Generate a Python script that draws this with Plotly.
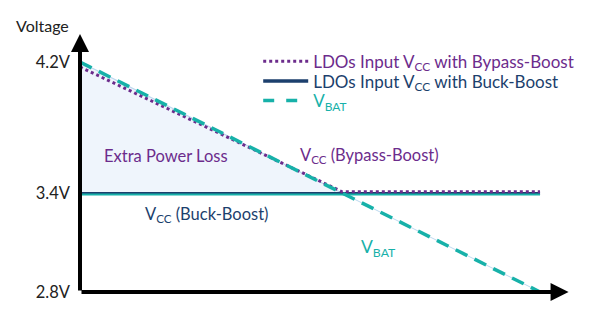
import plotly.graph_objects as go

# Schematic discharge: time in arbitrary units, voltage in volts
time_vbat = [0, 10]
v_bat = [4.2, 2.8]

# LDO input with bypass-boost: follows the battery until it reaches the regulated level
time_bypass = [0, 5.7, 10]
v_bypass = [4.17, 3.41, 3.41]

# LDO input with buck-boost: regulated flat level
time_buck = [0, 10]
v_buck = [3.4, 3.4]

# Region between the battery curve and the buck-boost level
time_loss = [0, 5.71, 0]
v_loss = [4.2, 3.4, 3.4]

y_ticks = [2.8, 3.4, 4.2]
y_tick_text = ["2.8V", "3.4V", "4.2V"]

PURPLE = "#6c2c8c"
NAVY = "#1c3f6d"
TEAL = "#17b1a9"
FONT = "Lato"

fig = go.Figure()

fig.add_trace(go.Scatter(
    x=time_loss, y=v_loss, fill="toself", fillcolor="#eff5fc",
    line=dict(color="#c6ddf0", width=1), mode="lines",
    showlegend=False, hoverinfo="skip"))

fig.add_trace(go.Scatter(
    x=time_vbat, y=v_bat, mode="lines",
    line=dict(color="#bcd9ef", width=1), showlegend=False, hoverinfo="skip"))

fig.add_trace(go.Scatter(
    x=time_buck, y=v_buck, mode="lines",
    line=dict(color=NAVY, width=3), showlegend=False))
fig.add_trace(go.Scatter(
    x=time_buck, y=[v - 0.006 for v in v_buck], mode="lines",
    line=dict(color=TEAL, width=2), showlegend=False, hoverinfo="skip"))

fig.add_trace(go.Scatter(
    x=time_bypass, y=v_bypass, mode="lines",
    line=dict(color=PURPLE, width=3, dash="dot"), showlegend=False))

fig.add_trace(go.Scatter(
    x=time_vbat, y=v_bat, mode="lines",
    line=dict(color=TEAL, width=3.5, dash="13px,8px"), showlegend=False))

# Legend entries, one legend box per row so the rows can sit close together
fig.add_trace(go.Scatter(
    x=[None], y=[None], mode="lines", legend="legend",
    line=dict(color=PURPLE, width=3, dash="dot"),
    name=f'<span style="color:{PURPLE}">LDOs Input V<sub>CC</sub> with Bypass-Boost</span>'))
fig.add_trace(go.Scatter(
    x=[None], y=[None], mode="lines", legend="legend2",
    line=dict(color=NAVY, width=3.5),
    name=f'<span style="color:{NAVY}">LDOs Input V<sub>CC</sub> with Buck-Boost</span>'))
fig.add_trace(go.Scatter(
    x=[None], y=[None], mode="lines", legend="legend3",
    line=dict(color=TEAL, width=3.5, dash="11px,12px"),
    name=f'<span style="color:{TEAL}">V<sub>BAT</sub></span>'))

annotations = [
    # axis arrows
    dict(x=0, y=4.37, ax=0, ay=2.8, xref="x", yref="y", axref="x", ayref="y",
         text="", showarrow=True, arrowhead=2, arrowwidth=4, arrowsize=0.9,
         arrowcolor="black"),
    dict(x=10.62, y=2.8, ax=0, ay=2.8, xref="x", yref="y", axref="x", ayref="y",
         text="", showarrow=True, arrowhead=2, arrowwidth=4, arrowsize=0.9,
         arrowcolor="black"),
    dict(x=-0.018, y=1.0185, xref="paper", yref="paper", text="Voltage",
         xanchor="right", yanchor="middle",
         showarrow=False, font=dict(size=16, color="#222")),
    dict(x=9.78, y=2.70, xref="x", yref="y", text="Time",
         showarrow=False, font=dict(size=16, color="#222")),
    dict(x=1.87, y=3.63, xref="x", yref="y", text="Extra Power Loss",
         showarrow=False, font=dict(size=16.5, color=PURPLE)),
    dict(x=6.30, y=3.63, xref="x", yref="y", text="V<sub>CC</sub> (Bypass-Boost)",
         showarrow=False, font=dict(size=16.5, color=PURPLE)),
    dict(x=2.76, y=3.27, xref="x", yref="y", text="V<sub>CC</sub> (Buck-Boost)",
         showarrow=False, font=dict(size=16.5, color=NAVY)),
    dict(x=6.48, y=3.07, xref="x", yref="y", text="V<sub>BAT</sub>",
         showarrow=False, font=dict(size=17.5, color=TEAL)),
]

legend_style = dict(x=0.36, xanchor="left", yanchor="middle",
                    bgcolor="rgba(0,0,0,0)", font=dict(size=17),
                    itemwidth=45)

fig.update_layout(
    width=600, height=335,
    margin=dict(l=80, r=25, t=30, b=35),
    paper_bgcolor="white", plot_bgcolor="white",
    font=dict(family=FONT, size=16, color="#222"),
    xaxis=dict(range=[0, 10.76], visible=False, fixedrange=True),
    yaxis=dict(range=[2.751, 4.395], tickvals=y_ticks, ticktext=y_tick_text,
               showgrid=False, zeroline=False, showline=False, ticks="",
               ticklabelstandoff=9, tickfont=dict(size=16.5, color="#222"),
               fixedrange=True),
    legend=dict(y=0.883, **legend_style),
    legend2=dict(y=0.809, **legend_style),
    legend3=dict(y=0.737, **legend_style),
    annotations=annotations,
)

fig.write_html("out.html")
